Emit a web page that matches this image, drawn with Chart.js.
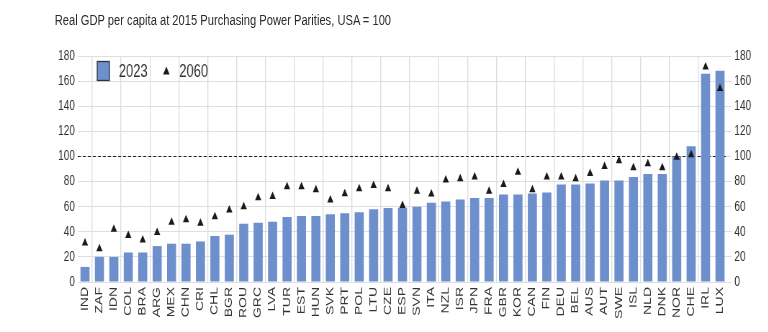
<!DOCTYPE html>
<html>
<head>
<meta charset="utf-8">
<script src="https://cdn.jsdelivr.net/npm/chart.js@4/dist/chart.umd.min.js"></script>
<style>
  html, body { margin: 0; padding: 0; background: #fff; overflow: hidden; }
  body { width: 768px; height: 332px; position: relative; }
  /* the figure is laid out wide and narrowed horizontally, giving its condensed lettering */
  #wrap {
    position: absolute; left: 0; top: 0;
    width: 1067px; height: 332px;
    transform: scaleX(0.72); transform-origin: 0 0;
  }
  #title {
    position: absolute; left: 76px; top: 11px;
    font-family: "Liberation Sans", Arial, sans-serif;
    font-size: 15.5px; color: #2b2b2b; white-space: nowrap;
  }
  #box { position: absolute; left: 0; top: 0; width: 1067px; height: 332px; }
</style>
</head>
<body>
<div id="wrap">
  <div id="title">Real GDP per capita at 2015 Purchasing Power Parities, USA = 100</div>
  <div id="box"><canvas id="c"></canvas></div>
</div>
<script>
const countries = ['IND','ZAF','IDN','COL','BRA','ARG','MEX','CHN','CRI','CHL','BGR','ROU','GRC','LVA','TUR','EST','HUN','SVK','PRT','POL','LTU','CZE','ESP','SVN','ITA','NZL','ISR','JPN','FRA','GBR','KOR','CAN','FIN','DEU','BEL','AUS','AUT','SWE','ISL','NLD','DNK','NOR','CHE','IRL','LUX'];

const gdp2023 = [12,20,20,23.5,23.5,28.6,30.5,30.5,32.3,36.6,37.7,46.4,47.2,48,51.7,52.5,52.5,53.9,54.7,55.5,57.9,58.9,59.2,60,63.2,64.2,65.8,66.9,66.9,69.6,69.6,70.4,71.2,77.6,77.6,78.4,80.8,80.8,83.7,86.1,86.1,100,108.1,165.9,168.3];

const gdp2060 = [31,26.5,42,37,33.5,39.5,47.5,49.5,46.7,52,57.4,60,67.2,68,75.8,75.8,73.4,65.4,70.2,74.2,76.8,74.2,61,72.3,70,81.3,82.2,83.7,72.3,77.6,87.4,73.4,83.7,83.7,82.2,86.4,92,96.5,91,94.1,91,99.4,101.3,171.2,154.2];

const yTicks = [0,20,40,60,80,100,120,140,160,180];
const usaLevel = 100;

const BAR_BLUE = '#6d8fcc';
const MARK = '#1a1a1a';
const GRID = '#dedede';
const TEXT = '#333333';
const FONT = '"Liberation Sans", Arial, sans-serif';

// dashed reference line at the USA level
const usaLine = {
  id: 'usaLine',
  beforeDatasetsDraw(chart) {
    const {ctx, chartArea} = chart;
    const y = chart.scales.y.getPixelForValue(usaLevel);
    ctx.save();
    ctx.strokeStyle = '#222';
    ctx.lineWidth = 1;
    ctx.setLineDash([4, 3]);
    ctx.beginPath();
    ctx.moveTo(chartArea.left, Math.round(y) + 0.5);
    ctx.lineTo(chartArea.right, Math.round(y) + 0.5);
    ctx.stroke();
    ctx.restore();
  }
};

// legend drawn inside the plot, top left
const innerLegend = {
  id: 'innerLegend',
  afterDatasetsDraw(chart) {
    const {ctx, chartArea} = chart;
    const x0 = chartArea.left + 27;
    const yMid = chartArea.top + 15;
    ctx.save();
    ctx.fillStyle = BAR_BLUE;
    ctx.strokeStyle = '#333';
    ctx.lineWidth = 1.3;
    ctx.fillRect(x0, yMid - 9.5, 17, 19);
    ctx.strokeRect(x0, yMid - 9.5, 17, 19);
    ctx.font = '18px ' + FONT;
    ctx.fillStyle = TEXT;
    ctx.textBaseline = 'middle';
    ctx.fillText(chart.data.datasets[0].label, x0 + 30, yMid + 1);
    const tx = x0 + 96;
    ctx.fillStyle = MARK;
    ctx.beginPath();
    ctx.moveTo(tx, yMid - 4.5);
    ctx.lineTo(tx + 4.5, yMid + 3.5);
    ctx.lineTo(tx - 4.5, yMid + 3.5);
    ctx.closePath();
    ctx.fill();
    ctx.fillStyle = TEXT;
    ctx.fillText(chart.data.datasets[1].label, tx + 18, yMid + 1);
    ctx.restore();
  }
};

const tickFont = { family: FONT, size: 14 };

new Chart(document.getElementById('c'), {
  type: 'bar',
  data: {
    labels: countries,
    datasets: [
      {
        label: '2023',
        data: gdp2023,
        backgroundColor: BAR_BLUE,
        borderWidth: 0,
        barPercentage: 0.63,
        categoryPercentage: 1,
        order: 2
      },
      {
        type: 'line',
        label: '2060',
        data: gdp2060,
        showLine: false,
        pointStyle: 'triangle',
        pointRadius: 5,
        pointBackgroundColor: MARK,
        pointBorderColor: MARK,
        pointBorderWidth: 0,
        order: 1
      }
    ]
  },
  options: {
    responsive: true,
    maintainAspectRatio: false,
    animation: false,
    layout: { padding: { top: 56, left: 0, right: 0, bottom: 0 } },
    plugins: { legend: { display: false }, tooltip: { enabled: false } },
    scales: {
      x: {
        offset: true,
        grid: {
          offset: true,
          drawTicks: false,
          lineWidth: 1.4,
          color: (c) => (c.index % 2 === 1 && c.index < countries.length) ? GRID : 'rgba(0,0,0,0)'
        },
        border: { display: false },
        ticks: {
          autoSkip: false, maxRotation: 90, minRotation: 90,
          padding: 5, color: TEXT, font: tickFont
        },
        afterFit(s) { s.height = 50; }
      },
      y: {
        position: 'left',
        min: 0, max: 180,
        afterBuildTicks(s) { s.ticks = yTicks.map(v => ({ value: v })); },
        grid: { color: GRID, drawTicks: false },
        border: { display: false },
        ticks: { padding: 4, color: TEXT, font: tickFont },
        afterFit(s) { s.width = 108; }
      },
      y2: {
        position: 'right',
        min: 0, max: 180,
        afterBuildTicks(s) { s.ticks = yTicks.map(v => ({ value: v })); },
        grid: { drawOnChartArea: false, drawTicks: true, tickLength: 6, color: GRID },
        border: { display: false },
        ticks: { padding: 4, color: TEXT, font: tickFont },
        afterFit(s) { s.width = 57; }
      }
    }
  },
  plugins: [usaLine, innerLegend]
});
</script>
</body>
</html>
